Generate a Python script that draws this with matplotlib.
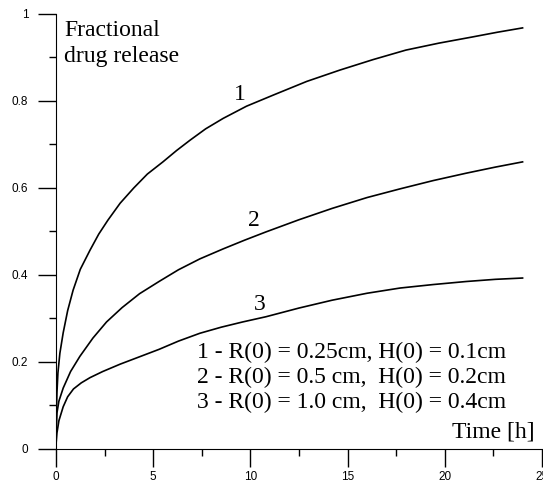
import matplotlib.pyplot as plt
from matplotlib.ticker import MultipleLocator

# values
t1 = [0, 0.02, 0.05, 0.1, 0.2, 0.37, 0.6, 0.88, 1.25, 1.75, 2.2, 2.67, 3.3, 4.0, 4.7,
      5.5, 6.2, 6.9, 7.7, 8.6, 9.8, 11.2, 12.9, 14.6, 16.3, 18.0, 19.7, 21.4, 22.7, 24.0]
f1 = [0, 0.08, 0.13, 0.175, 0.22, 0.267, 0.318, 0.365, 0.413, 0.457, 0.494, 0.526, 0.565, 0.60, 0.632,
      0.66, 0.686, 0.71, 0.736, 0.76, 0.788, 0.814, 0.845, 0.871, 0.895, 0.917, 0.933, 0.947, 0.958, 0.968]

t2 = [0, 0.01, 0.05, 0.15, 0.37, 0.75, 1.23, 1.9, 2.6, 3.4, 4.3, 5.3, 6.3, 7.4,
      8.6, 9.7, 10.8, 12.5, 14.2, 16.0, 17.7, 19.4, 21.1, 22.6, 24.0]
f2 = [0, 0.04, 0.083, 0.11, 0.14, 0.178, 0.213, 0.255, 0.292, 0.325, 0.357, 0.385, 0.412, 0.437,
      0.46, 0.48, 0.499, 0.527, 0.553, 0.578, 0.598, 0.617, 0.634, 0.648, 0.66]

t3 = [0, 0.01, 0.05, 0.15, 0.37, 0.6, 0.9, 1.3, 1.75, 2.4, 3.3, 4.3, 5.3, 6.3, 7.4,
      8.5, 9.6, 10.8, 12.5, 14.2, 16.0, 17.7, 19.4, 21.1, 22.6, 24.0]
f3 = [0, 0.015, 0.037, 0.065, 0.097, 0.12, 0.138, 0.152, 0.164, 0.178, 0.195, 0.212, 0.229, 0.248, 0.266,
      0.28, 0.292, 0.304, 0.324, 0.342, 0.358, 0.37, 0.378, 0.385, 0.39, 0.393]

curve_labels = ['1', '2', '3']
legend_lines = ['1 - R(0) = 0.25cm, H(0) = 0.1cm',
                '2 - R(0) = 0.5 cm,  H(0) = 0.2cm',
                '3 - R(0) = 1.0 cm,  H(0) = 0.4cm']
xticks = [0, 5, 10, 15, 20, 25]
yticks = [0, 0.2, 0.4, 0.6, 0.8, 1]
ytick_labels = ['0', '0.2', '0.4', '0.6', '0.8', '1']

serif = 'Liberation Serif'
fs = 17

fig = plt.figure(figsize=(5.43, 4.82), dpi=100)
ax = fig.add_axes([0.1031, 0.0685, 0.8951, 0.9025])

for t, f in [(t1, f1), (t2, f2), (t3, f3)]:
    ax.plot(t, f, color='black', lw=1.2)

ax.set_xlim(0, 25)
ax.set_ylim(0, 1)
ax.set_xticks(xticks)
ax.set_yticks(yticks)
ax.set_yticklabels(ytick_labels)
ax.xaxis.set_minor_locator(MultipleLocator(2.5))
ax.yaxis.set_minor_locator(MultipleLocator(0.1))
ax.tick_params(which='major', direction='out', length=13, width=1, labelsize=8.5)
ax.tick_params(axis='y', which='major', pad=7)
ax.tick_params(axis='x', which='major', pad=3)
ax.tick_params(which='minor', direction='out', length=5, width=1)
for lab in ax.get_xticklabels() + ax.get_yticklabels():
    lab.set_fontfamily('Liberation Sans')

ax.spines['top'].set_visible(False)
ax.spines['right'].set_visible(False)

# curve numbers
label_pos = [(9.46, 0.814), (10.2, 0.526), (10.5, 0.333)]
for lab, (x, y) in zip(curve_labels, label_pos):
    ax.text(x, y, lab, family=serif, fontsize=fs, ha='center', va='center')

ax.text(0.41, 0.961, 'Fractional', family=serif, fontsize=fs, ha='left', va='center')
ax.text(0.41, 0.903, 'drug release', family=serif, fontsize=fs, ha='left', va='center')

for i, line in enumerate(legend_lines):
    ax.text(7.25, 0.221 - i * 0.057, line, family=serif, fontsize=fs,
            ha='left', va='center')

ax.text(24.6, 0.039, 'Time [h]', family=serif, fontsize=fs, ha='right', va='center')

fig.savefig('out.png', dpi=100)
